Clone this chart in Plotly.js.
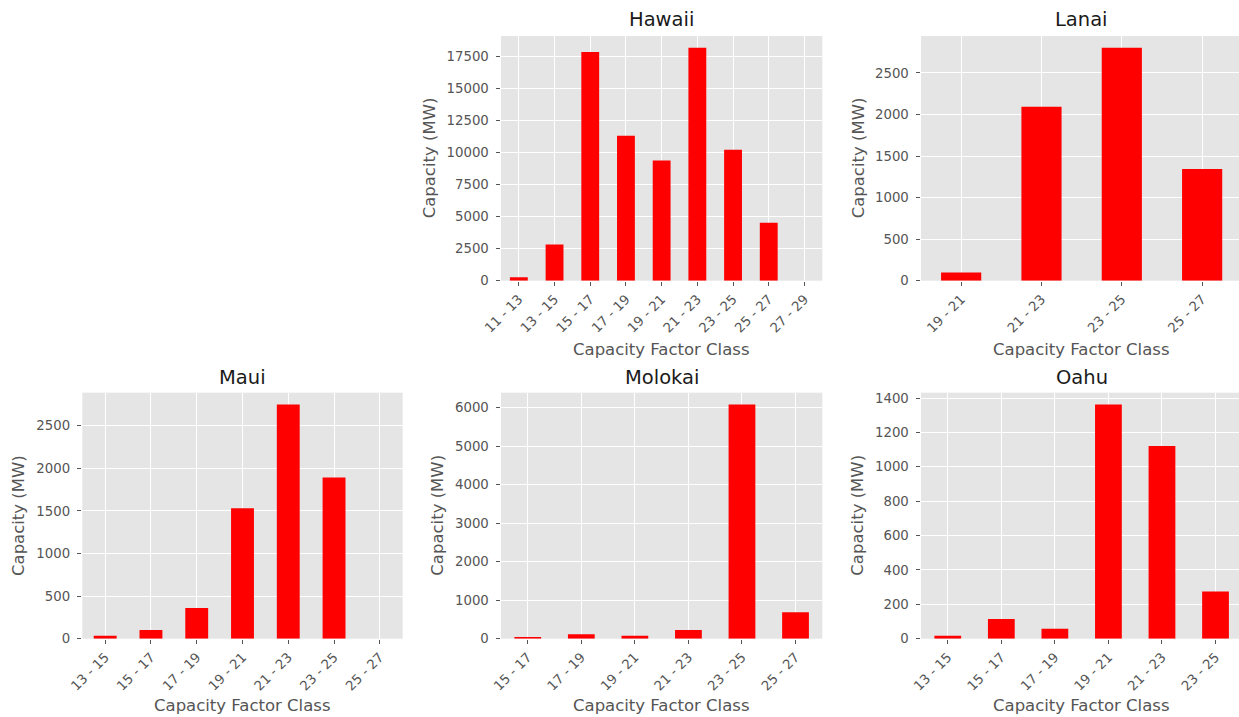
<!DOCTYPE html>
<html><head><meta charset="utf-8">
<script src="https://cdn.plot.ly/plotly-3.0.1.min.js"></script>
<style>html,body{margin:0;padding:0;background:#fff;} #chart{width:1239px;height:717px;}</style>
</head><body><div id="chart"></div>
<script>
// ---- data ----
const hawaiiClasses = ["11 - 13","13 - 15","15 - 17","17 - 19","19 - 21","21 - 23","23 - 25","25 - 27","27 - 29"];
const hawaiiCapacity = [265, 2820, 17860, 11320, 9380, 18190, 10230, 4530, 0];
const lanaiClasses = ["19 - 21","21 - 23","23 - 25","25 - 27"];
const lanaiCapacity = [100, 2093, 2804, 1344];
const mauiClasses = ["13 - 15","15 - 17","17 - 19","19 - 21","21 - 23","23 - 25","25 - 27"];
const mauiCapacity = [35, 102, 359, 1531, 2750, 1891, 0];
const molokaiClasses = ["15 - 17","17 - 19","19 - 21","21 - 23","23 - 25","25 - 27"];
const molokaiCapacity = [42, 114, 78, 225, 6085, 685];
const oahuClasses = ["13 - 15","15 - 17","17 - 19","19 - 21","21 - 23","23 - 25"];
const oahuCapacity = [17, 114, 58, 1363, 1121, 275];
const xAxisLabel = "Capacity Factor Class";
const yAxisLabel = "Capacity (MW)";

// ---- layout helpers ----
const W = 1239, H = 717;
const fx = px => px / W;
const fy = py => 1 - py / H;
const FONT = "DejaVu Sans, Verdana, sans-serif";

const panels = [
  {name:"Hawaii",  cats:hawaiiClasses,  vals:hawaiiCapacity,  box:[501, 822.3, 36, 280.7],    dtick:2500, yoff:72, ty:20,    xy:349.2},
  {name:"Lanai",   cats:lanaiClasses,   vals:lanaiCapacity,   box:[921, 1242.3, 36, 280.7],   dtick:500,  yoff:63, ty:20,    xy:349.2},
  {name:"Maui",    cats:mauiClasses,    vals:mauiCapacity,    box:[82.3, 402.7, 392.7, 638.7], dtick:500, yoff:64, ty:377.5, xy:705.9},
  {name:"Molokai", cats:molokaiClasses, vals:molokaiCapacity, box:[501, 822.3, 392.7, 638.7], dtick:1000, yoff:63, ty:377.5, xy:705.9},
  {name:"Oahu",    cats:oahuClasses,    vals:oahuCapacity,    box:[921, 1242.3, 392.7, 638.7], dtick:200, yoff:63, ty:377.5, xy:705.9}
];

const data = [];
const annotations = [];
const layout = {
  width: W, height: H, autosize: false,
  margin: {l:0, r:0, t:0, b:0, pad:0},
  paper_bgcolor: "#ffffff",
  plot_bgcolor: "#E5E5E5",
  showlegend: false,
  font: {family: FONT, color: "#555555"},
  annotations: annotations
};

panels.forEach((p, i) => {
  const k = i === 0 ? "" : String(i + 1);
  const [l, r, t, b] = p.box;
  const visR = Math.min(r, W);
  const n = p.cats.length;
  data.push({
    type: "bar", x: p.cats, y: p.vals,
    xaxis: "x" + k, yaxis: "y" + k,
    width: 0.5,
    marker: {color: "#ff0000", line: {width: 0}},
    name: p.name
  });
  layout["xaxis" + k] = {
    domain: [fx(l), fx(visR)], anchor: "y" + k,
    type: "category",
    range: [-0.5, -0.5 + n * (visR - l) / (r - l)],
    showgrid: true, gridcolor: "#ffffff", gridwidth: 1,
    zeroline: false, showline: false,
    ticks: "outside", ticklen: 4.5, tickwidth: 1, tickcolor: "#555555",
    tickangle: -45,
    tickfont: {family: FONT, size: 13.3, color: "#555555"},
    fixedrange: true
  };
  layout["yaxis" + k] = {
    domain: [fy(b), fy(t)], anchor: "x" + k,
    range: [0, 1.05 * Math.max(...p.vals)],
    tick0: 0, dtick: p.dtick, tickformat: "d",
    showgrid: true, gridcolor: "#ffffff", gridwidth: 1,
    zeroline: false, showline: false,
    ticks: "outside", ticklen: 4.5, tickwidth: 1, tickcolor: "#555555",
    ticklabelstandoff: 4,
    tickfont: {family: FONT, size: 13.3, color: "#555555"},
    fixedrange: true
  };
  const cx = (l + r) / 2;
  annotations.push({
    text: p.name, xref: "paper", yref: "paper",
    x: fx(cx), y: fy(p.ty), xanchor: "center", yanchor: "middle",
    showarrow: false, font: {family: FONT, size: 19.5, color: "#1a1a1a"}
  });
  annotations.push({
    text: xAxisLabel, xref: "paper", yref: "paper",
    x: fx(cx), y: fy(p.xy), xanchor: "center", yanchor: "middle",
    showarrow: false, font: {family: FONT, size: 16.5, color: "#555555"}
  });
  annotations.push({
    text: yAxisLabel, xref: "paper", yref: "paper",
    x: fx(l - p.yoff), y: fy((t + b) / 2), xanchor: "center", yanchor: "middle",
    textangle: -90,
    showarrow: false, font: {family: FONT, size: 16.5, color: "#555555"}
  });
});

Plotly.newPlot("chart", data, layout, {displayModeBar: false, staticPlot: true});
</script>
</body></html>
